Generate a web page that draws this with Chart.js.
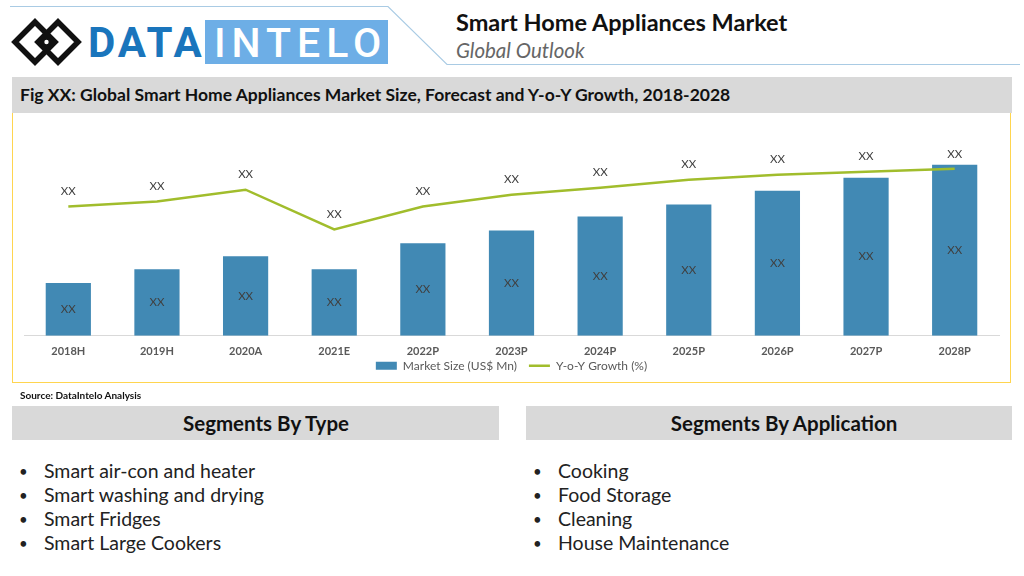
<!DOCTYPE html>
<html>
<head>
<meta charset="utf-8">
<script src="https://cdn.jsdelivr.net/npm/chart.js@4.4.1/dist/chart.umd.min.js"></script>
<style>
  html,body{margin:0;padding:0;background:#fff;}
  body{width:1024px;height:576px;position:relative;overflow:hidden;font-family:Lato,"Open Sans",sans-serif;}
  .abs{position:absolute;}
  #title{left:456px;top:7px;font-size:23.5px;font-weight:bold;color:#111;white-space:nowrap;line-height:30px;}
  #subtitle{left:456px;top:37px;font-size:20.5px;font-style:italic;color:#666;white-space:nowrap;line-height:26px;}
  #figband{left:12px;top:77px;width:1000px;height:36px;background:#d9d9d9;}
  #figtext{left:8px;top:6px;font-size:17.5px;font-weight:bold;color:#111;white-space:nowrap;line-height:24px;}
  #chartbox{left:12px;top:113px;width:997px;height:269px;border:1.5px solid #ffd54f;border-top:none;}
  #chartwrap{left:13px;top:114px;width:998px;height:287px;}
  #source{left:20px;top:388px;font-size:10px;font-weight:bold;color:#111;white-space:nowrap;line-height:14px;}
  .seghead{top:406px;height:34px;background:#d9d9d9;font-size:20.5px;font-weight:bold;color:#111;text-align:center;line-height:34px;box-sizing:border-box;}
  ul.seg{margin:0;padding:0;list-style:none;font-size:19.5px;color:#222;}
  ul.seg li{position:relative;height:24px;line-height:24px;padding-left:22px;white-space:nowrap;}
  ul.seg li:before{content:"•";position:absolute;left:-3px;top:0;font-size:15px;}
</style>
</head>
<body>
<svg class="abs" style="left:0;top:0" width="1024" height="80">
  <polyline points="10,6.5 388,6.5 447,64.5 1020,64.5" fill="none" stroke="#a9cbe4" stroke-width="1.2"/>
  <g fill="none" stroke="#111" stroke-width="5.5" stroke-linejoin="miter">
    <path d="M35,22 L55,42 L35,62 L15,42 Z"/>
    <path d="M58,22 L78,42 L58,62 L38,42 Z"/>
  </g>
  <path d="M46.5,31 L57.5,42 L46.5,53 L35.5,42 Z" fill="#111"/>
  <circle cx="46.5" cy="42" r="2.2" fill="#fff"/>
  <text x="88" y="57" font-family="Roboto, 'DejaVu Sans', sans-serif" font-weight="bold" font-size="42" fill="#1a75bc" letter-spacing="3">DATA</text>
  <rect x="205" y="20" width="183" height="44" fill="#6daee6"/>
  <text x="214" y="57" font-family="Roboto, 'DejaVu Sans', sans-serif" font-weight="500" font-size="41" fill="#ffffff" letter-spacing="6">INTELO</text>
</svg>
<div id="title" class="abs">Smart Home Appliances Market</div>
<div id="subtitle" class="abs">Global Outlook</div>
<div id="figband" class="abs"><div id="figtext" class="abs">Fig XX: Global Smart Home Appliances Market Size, Forecast and Y-o-Y Growth, 2018-2028</div></div>
<div id="chartbox" class="abs"></div>
<div id="chartwrap" class="abs"><canvas id="c" width="998" height="287"></canvas></div>
<div id="source" class="abs">Source: DataIntelo Analysis</div>
<div class="abs seghead" style="left:12px;width:487px;padding-left:21px;">Segments By Type</div>
<div class="abs seghead" style="left:526px;width:486px;padding-left:30px;">Segments By Application</div>
<ul class="abs seg" style="left:22px;top:459px;" id="typeList"></ul>
<ul class="abs seg" style="left:536px;top:459px;" id="appList"></ul>
<script>
const categories = ["2018H","2019H","2020A","2021E","2022P","2023P","2024P","2025P","2026P","2027P","2028P"];
const marketSize = [53, 67, 80, 67, 93, 106, 120, 132, 146, 159, 172];
const yoyGrowth = [6.5, 7.0, 8.2, 4.2, 6.5, 7.7, 8.4, 9.2, 9.7, 10.0, 10.3];
const barLabels = ["XX","XX","XX","XX","XX","XX","XX","XX","XX","XX","XX"];
const lineLabels = ["XX","XX","XX","XX","XX","XX","XX","XX","XX","XX","XX"];
const segmentsByType = ["Smart air-con and heater","Smart washing and drying","Smart Fridges","Smart Large Cookers"];
const segmentsByApplication = ["Cooking","Food Storage","Cleaning","House Maintenance"];

function fillList(id, items){
  const ul = document.getElementById(id);
  items.forEach(t => { const li = document.createElement('li'); li.textContent = t; ul.appendChild(li); });
}
fillList('typeList', segmentsByType);
fillList('appList', segmentsByApplication);

const labelPlugin = {
  id: 'xxLabels',
  afterDatasetsDraw(chart){
    const ctx = chart.ctx;
    ctx.save();
    ctx.font = '11.5px Lato, sans-serif';
    ctx.fillStyle = '#404040';
    ctx.textAlign = 'center';
    ctx.textBaseline = 'middle';
    chart.getDatasetMeta(0).data.forEach((el, i) => {
      const p = el.getProps(['x','y','base'], true);
      ctx.fillText(barLabels[i], p.x, (p.y + p.base) / 2);
    });
    chart.getDatasetMeta(1).data.forEach((el, i) => {
      const p = el.getProps(['x','y'], true);
      ctx.fillText(lineLabels[i], p.x, p.y - 15);
    });
    ctx.restore();
  }
};

// place the legend right under the category labels (centre 30px below the axis line)
const legendPlace = {
  id: 'legendPlace',
  afterLayout(chart){
    const lg = chart.legend, sx = chart.scales.x;
    if (!lg || !sx) return;
    const pad = lg.options.labels.padding;
    const fs = lg.options.labels.font.size;
    const h = lg.height;
    lg.top = sx.top + 30 - pad - fs / 2;
    lg.bottom = lg.top + h;
  }
};

new Chart(document.getElementById('c'), {
  data: {
    labels: categories,
    datasets: [
      {
        type: 'bar',
        label: 'Market Size (US$ Mn)',
        data: marketSize,
        backgroundColor: '#4189b4',
        borderWidth: 0,
        categoryPercentage: 1.0,
        barPercentage: 0.51,
        yAxisID: 'y',
        order: 2
      },
      {
        type: 'line',
        label: 'Y-o-Y Growth (%)',
        data: yoyGrowth,
        borderColor: '#a1bd2c',
        backgroundColor: '#a1bd2c',
        borderWidth: 2.5,
        pointRadius: 0,
        tension: 0,
        yAxisID: 'y1',
        order: 1
      }
    ]
  },
  options: {
    responsive: false,
    animation: false,
    layout: { padding: { left: 11, right: 12, top: 23, bottom: 0 } },
    plugins: {
      tooltip: { enabled: false },
      legend: {
        position: 'bottom',
        labels: {
          font: { family: 'Lato, sans-serif', size: 12 },
          color: '#595959',
          usePointStyle: true,
          pointStyleWidth: 21,
          boxHeight: 8,
          padding: 12,
          generateLabels(chart){
            const items = Chart.defaults.plugins.legend.labels.generateLabels(chart);
            items.sort((a, b) => a.datasetIndex - b.datasetIndex);
            items.forEach(it => {
              if (it.datasetIndex === 0) { it.pointStyle = 'rect'; it.lineWidth = 0; it.fillStyle = '#4189b4'; it.strokeStyle = '#4189b4'; }
              else { it.pointStyle = 'line'; it.lineWidth = 2.5; it.strokeStyle = '#a1bd2c'; }
            });
            return items;
          }
        }
      }
    },
    scales: {
      x: {
        grid: { display: false, drawTicks: false },
        border: { display: true, color: '#d9d9d9', width: 1 },
        ticks: { font: { family: 'Lato, sans-serif', size: 11, weight: 'bold' }, color: '#595959', padding: 9 }
      },
      y: { display: false, min: 0, max: 200 },
      y1: { display: false, min: -6.5, max: 13.5 }
    }
  },
  plugins: [labelPlugin, legendPlace]
});
</script>
</body>
</html>
